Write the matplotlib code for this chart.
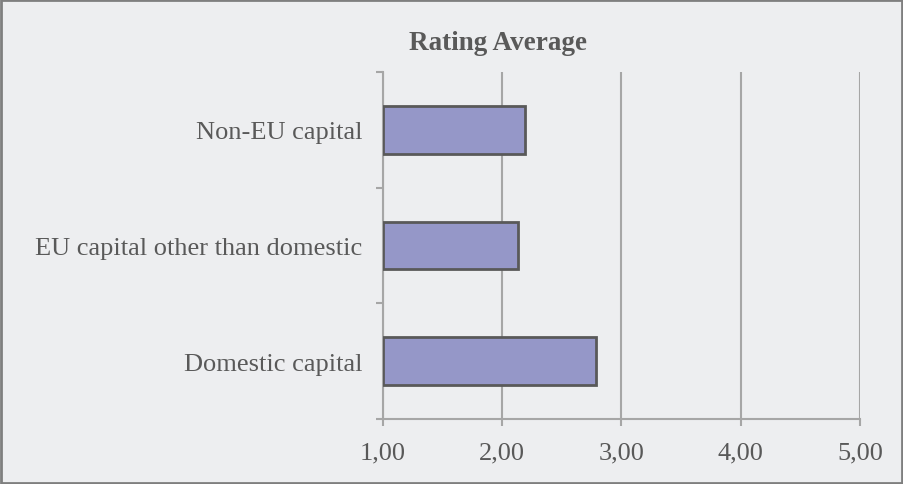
import matplotlib
matplotlib.use("Agg")
import matplotlib.pyplot as plt
from matplotlib.patches import Rectangle

categories = ["Domestic capital", "EU capital other than domestic", "Non-EU capital"]
rating_avg = [2.79, 2.13, 2.19]
x_ticks = [1, 2, 3, 4, 5]
x_labels = ["1,00", "2,00", "3,00", "4,00", "5,00"]

BG = "#edeef0"
BAR = "#9597c8"
EDGE = "#595959"
GRID = "#a6a6a6"
TXT = "#595959"

plt.rcParams["font.family"] = ["Liberation Serif", "DejaVu Serif"]

fig = plt.figure(figsize=(9.04, 4.85), dpi=100, facecolor=BG)
ax = fig.add_axes([383 / 904, 65 / 485, 477 / 904, 347 / 485], facecolor=BG)

ypos = list(range(len(categories)))
ax.barh(ypos, [v - 1 for v in rating_avg], left=1, height=0.41,
        color=BAR, edgecolor=EDGE, linewidth=2, zorder=3)

ax.set_xlim(1, 5)
ax.set_ylim(-0.5, len(categories) - 0.5)
ax.set_xticks(x_ticks)
ax.set_xticklabels(x_labels, fontsize=19, color=TXT)
ax.set_yticks(ypos)
ax.set_yticklabels(categories, fontsize=19, color=TXT)
ax.tick_params(axis="y", length=0, pad=15)
ax.tick_params(axis="x", length=5, width=1.5, color=GRID, pad=11)

# category boundary ticks on the y axis
ax.set_yticks([-0.5, 0.5, 1.5, 2.5], minor=True)
ax.tick_params(axis="y", which="minor", length=5, width=1.5, color=GRID)

ax.grid(axis="x", color=GRID, linewidth=1.5, zorder=0)
for s in ["top", "right"]:
    ax.spines[s].set_visible(False)
for s in ["left", "bottom"]:
    ax.spines[s].set_color(GRID)
    ax.spines[s].set_linewidth(1.5)

fig.text(498 / 904, 1 - 44 / 485, "Rating Average", ha="center", va="center",
         fontsize=19.5, fontweight="bold", color=TXT)

fig.patches.append(Rectangle((0.001, 0.002), 0.997, 0.996, transform=fig.transFigure,
                             fill=False, edgecolor="#7f7f7f", linewidth=2))

fig.savefig("out.png", dpi=100, facecolor=BG)
